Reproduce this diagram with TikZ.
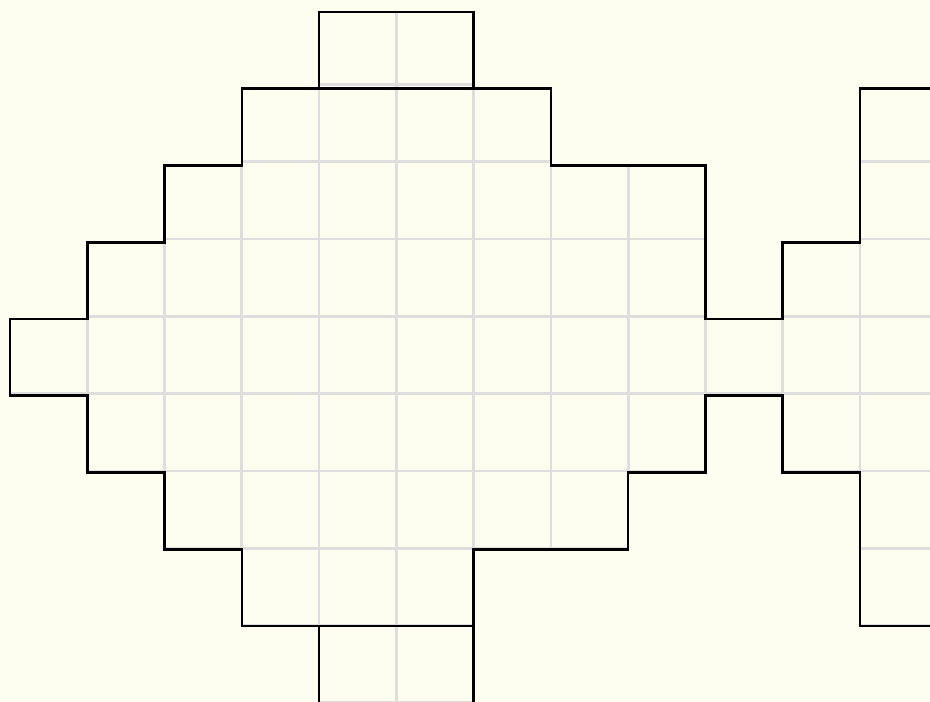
\documentclass[tikz,border=0pt]{standalone}
\definecolor{papier}{RGB}{254,254,240}
\definecolor{szary}{RGB}{222,222,222}
\begin{document}
\begin{tikzpicture}[x=1cm, y=0.9933cm,
    kratka/.style={line width=1pt, draw=szary},
    obrys/.style={line width=0.95pt, draw=black, line join=miter}]
        % Tlo
        \fill[papier] (-0.13,0.01) rectangle (11.906,9.156);
        \clip (-0.13,0.01) rectangle (11.906,9.156);

        % Kratka wewnatrz ksztaltow
        \begin{scope}
            \clip (3,8) -- (7,8) -- (7,7) -- (9,7) -- (9,5) -- (10,5) -- (10,6) -- (11,6)
                -- (11,8) -- (12.5,8) -- (12.5,1) -- (11,1) -- (11,3) -- (10,3) -- (10,4)
                -- (9,4) -- (9,3) -- (8,3) -- (8,2) -- (6,2) -- (6,1) -- (3,1) -- (3,2)
                -- (2,2) -- (2,3) -- (1,3) -- (1,4) -- (0,4) -- (0,5) -- (1,5) -- (1,6)
                -- (2,6) -- (2,7) -- (3,7) -- cycle
                (4,8) rectangle (6,9)
                (4,-1) rectangle (6,1);
            \draw[kratka] (-1,-1) grid (13,10);
        \end{scope}

        % Obrys glownego ksztaltu
        \draw[obrys] (3,8) -- (7,8) -- (7,7) -- (9,7) -- (9,5) -- (10,5) -- (10,6) -- (11,6)
            -- (11,8) -- (12.5,8) -- (12.5,1) -- (11,1) -- (11,3) -- (10,3) -- (10,4)
            -- (9,4) -- (9,3) -- (8,3) -- (8,2) -- (6,2) -- (6,1) -- (3,1) -- (3,2)
            -- (2,2) -- (2,3) -- (1,3) -- (1,4) -- (0,4) -- (0,5) -- (1,5) -- (1,6)
            -- (2,6) -- (2,7) -- (3,7) -- cycle;

        % Gorny i dolny blok
        \draw[obrys] (4,8) rectangle (6,9);
        \draw[obrys] (4,-1) rectangle (6,1);
\end{tikzpicture}
\end{document}
